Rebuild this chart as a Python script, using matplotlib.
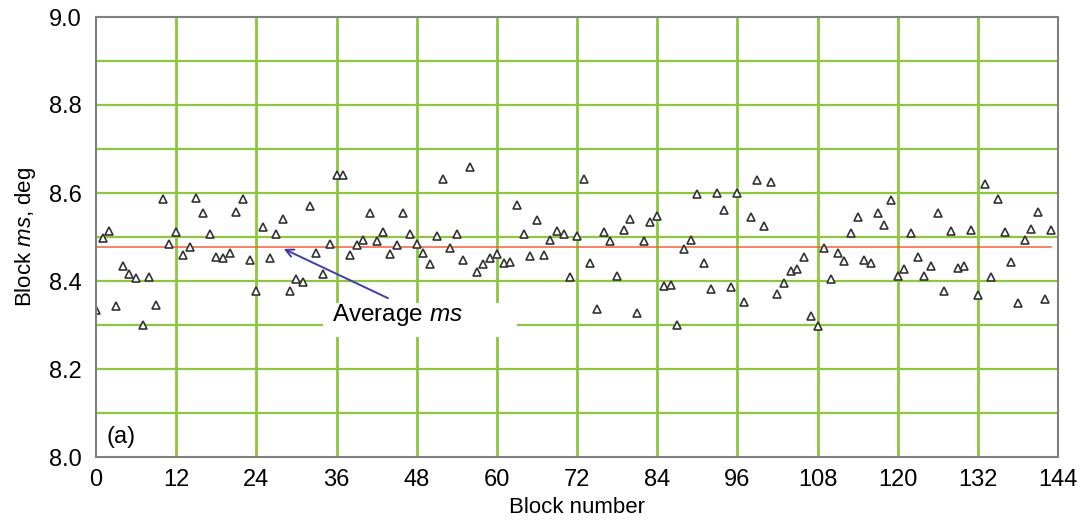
"""
plot.py
Block ms per block number, with the average ms line -- panel (a)
"""

import matplotlib
matplotlib.use('Agg')
import matplotlib.pyplot as plt
from matplotlib.patches import Rectangle

plt.rcParams['font.family'] = ['Liberation Sans', 'DejaVu Sans']
plt.rcParams['mathtext.fontset'] = 'custom'
plt.rcParams['mathtext.rm'] = 'Liberation Sans'
plt.rcParams['mathtext.it'] = 'Liberation Sans:italic'

# ── data ─────────────────────────────────────────────────────────
BLOCK_MS = [
    8.333, 8.497, 8.514, 8.344, 8.433, 8.417, 8.406, 8.300, 8.410, 8.345,
    8.586, 8.484, 8.512, 8.459, 8.478, 8.588, 8.555, 8.507, 8.455, 8.452,
    8.463, 8.557, 8.586, 8.448, 8.377, 8.522, 8.453, 8.507, 8.540, 8.377,
    8.404, 8.397, 8.570, 8.463, 8.417, 8.484, 8.642, 8.641, 8.459, 8.482,
    8.493, 8.555, 8.491, 8.512, 8.461, 8.482, 8.555, 8.507, 8.483, 8.464,
    8.439, 8.503, 8.632, 8.476, 8.507, 8.448, 8.660, 8.421, 8.439, 8.452,
    8.461, 8.440, 8.444, 8.573, 8.507, 8.457, 8.539, 8.459, 8.493, 8.514,
    8.507, 8.410, 8.502, 8.631, 8.442, 8.336, 8.512, 8.491, 8.411, 8.516,
    8.541, 8.327, 8.491, 8.533, 8.548, 8.389, 8.392, 8.300, 8.472, 8.493,
    8.598, 8.440, 8.382, 8.599, 8.561, 8.386, 8.599, 8.352, 8.546, 8.630,
    8.525, 8.624, 8.370, 8.396, 8.423, 8.427, 8.455, 8.320, 8.298, 8.476,
    8.405, 8.463, 8.446, 8.508, 8.545, 8.448, 8.440, 8.555, 8.527, 8.584,
    8.412, 8.427, 8.508, 8.454, 8.412, 8.435, 8.555, 8.377, 8.514, 8.429,
    8.435, 8.516, 8.368, 8.620, 8.408, 8.586, 8.512, 8.444, 8.351, 8.493,
    8.518, 8.556, 8.358, 8.516,
]
BLOCK_NO = list(range(len(BLOCK_MS)))
AVERAGE_MS = 8.477

X_TICKS = list(range(0, 145, 12))
Y_TICKS = [8.0, 8.2, 8.4, 8.6, 8.8, 9.0]
Y_GRID = [8.1, 8.2, 8.3, 8.4, 8.5, 8.6, 8.7, 8.8, 8.9]
X_GRID = list(range(12, 144, 12))

GREEN = '#8DC63F'
RED = '#F0603C'
ARROW = '#3F3FA5'
SPINE = '#808080'


def main():
    fig = plt.figure(figsize=(10.82, 5.25), dpi=100)
    ax = fig.add_axes([96 / 1082, 68 / 525, 962 / 1082, 440 / 525])

    # grid (drawn as lines so the label box can hide them)
    for y in Y_GRID:
        ax.axhline(y, color=GREEN, linewidth=1.6, zorder=1)
    for x in X_GRID:
        ax.axvline(x, color=GREEN, linewidth=2.0, zorder=1)

    # average line
    ax.plot([BLOCK_NO[0], BLOCK_NO[-1]], [AVERAGE_MS, AVERAGE_MS],
            color=RED, linewidth=1.1, zorder=2)

    # block ms
    ax.plot(BLOCK_NO, BLOCK_MS, linestyle='none', marker='^',
            markersize=5.5, markerfacecolor='white',
            markeredgecolor='#333333', markeredgewidth=1.2, zorder=4)

    # label box + arrow
    ax.add_patch(Rectangle((227 / 962, 120 / 440), 194 / 962, 34 / 440,
                           transform=ax.transAxes, facecolor='white',
                           edgecolor='none', zorder=3))
    ax.text(35.3, 8.323, 'Average $\\mathit{ms}$', fontsize=17.5,
            ha='left', va='center', zorder=5)
    ax.annotate('', xy=(28.1, 8.473), xytext=(43.7, 8.361),
                arrowprops=dict(arrowstyle='->', color=ARROW, lw=1.4,
                                mutation_scale=14, shrinkA=0, shrinkB=0),
                zorder=5)

    ax.text(1.6, 8.045, '(a)', fontsize=17, ha='left', va='center')

    ax.set_xlim(0, 144)
    ax.set_ylim(8.0, 9.0)
    ax.set_xticks(X_TICKS)
    ax.set_yticks(Y_TICKS)
    ax.set_yticklabels([f'{v:.1f}' for v in Y_TICKS])
    ax.tick_params(axis='both', length=0, labelsize=17)
    ax.tick_params(axis='x', pad=9)
    ax.tick_params(axis='y', pad=10)

    for sp in ax.spines.values():
        sp.set_color(SPINE)
        sp.set_linewidth(1.5)
        sp.set_zorder(6)

    ax.set_xlabel('Block number', fontsize=16, labelpad=4)
    ax.set_ylabel('Block $\\mathit{ms}$, deg', fontsize=16, labelpad=8)

    plt.savefig('out.png', dpi=100)
    plt.close()


if __name__ == '__main__':
    main()
